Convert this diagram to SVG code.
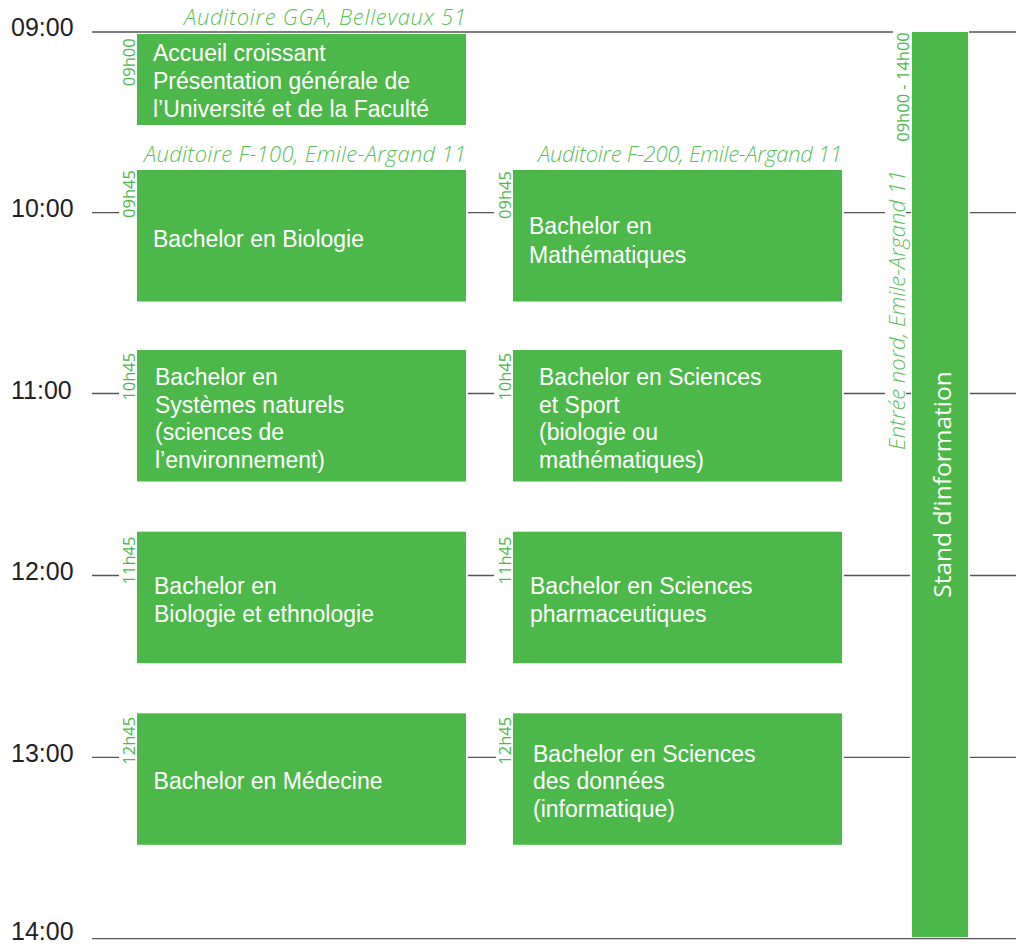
<svg xmlns="http://www.w3.org/2000/svg" width="1016" height="945" viewBox="0 0 1016 945">
<style>
.bg{fill:#ffffff}
.box{fill:#4db84a}
.grid{stroke:#555555;stroke-width:1.3;fill:none}
.hour{font-family:"Liberation Sans","Open Sans",sans-serif;font-size:25px;fill:#222222}
.t{font-family:"Liberation Sans","Open Sans",sans-serif;font-size:23px;fill:#ffffff}
.st{font-family:"Open Sans","Liberation Sans",sans-serif;font-size:24.5px;fill:#ffffff;text-anchor:middle}
.loc{font-family:"Open Sans","Liberation Sans",sans-serif;font-size:22px;font-style:italic;font-weight:300;fill:#5cbf58}
.sm{font-family:"Open Sans","Liberation Sans",sans-serif;font-size:16.5px;fill:#4db84a;text-anchor:middle}
</style>
<rect class="bg" x="0" y="0" width="1016" height="945"/>
<g id="hours">
<text class="hour" x="11" y="36">09:00</text>
<text class="hour" x="11" y="217">10:00</text>
<text class="hour" x="11" y="399">11:00</text>
<text class="hour" x="11" y="580">12:00</text>
<text class="hour" x="11" y="762">13:00</text>
<text class="hour" x="11" y="939.5">14:00</text>
</g>
<g id="connectors">
<path class="grid" d="M92 32H893M969 32H1016"/>
<path class="grid" d="M92 212.7H119M468 212.7H494M844 212.7H885M906 212.7H911M970 212.7H1016"/>
<path class="grid" d="M92 393.5H119M468 393.5H494M844 393.5H885M906 393.5H911M970 393.5H1016"/>
<path class="grid" d="M92 575.5H119M468 575.5H494M844 575.5H910M970 575.5H1016"/>
<path class="grid" d="M92 757.3H119M468 757.3H496M844 757.3H910M970 757.3H1016"/>
<path class="grid" d="M92 938.7H1016"/>
</g>
<g id="locations">
<text class="loc" x="466" y="25" text-anchor="end" textLength="282" lengthAdjust="spacing">Auditoire GGA, Bellevaux 51</text>
<text class="loc" x="466" y="162" text-anchor="end" textLength="322" lengthAdjust="spacing">Auditoire F-100, Emile-Argand 11</text>
<text class="loc" x="842" y="162" text-anchor="end" textLength="304" lengthAdjust="spacing">Auditoire F-200, Emile-Argand 11</text>
</g>
<g id="accueil">
<rect class="box" x="137" y="34" width="329" height="91"/>
<text class="sm" transform="translate(135 62.3) rotate(-90)">09h00</text>
<text class="t" x="153" y="61">Accueil croissant</text>
<text class="t" x="153" y="89">Présentation générale de</text>
<text class="t" x="153" y="117">l’Université et de la Faculté</text>
</g>
<g id="biologie">
<rect class="box" x="137" y="170" width="329" height="131.5"/>
<text class="sm" transform="translate(135 194) rotate(-90)">09h45</text>
<text class="t" x="153" y="247">Bachelor en Biologie</text>
</g>
<g id="mathematiques">
<rect class="box" x="513" y="170" width="329" height="131.5"/>
<text class="sm" transform="translate(511 195) rotate(-90)">09h45</text>
<text class="t" x="529" y="234">Bachelor en</text>
<text class="t" x="529" y="263">Mathématiques</text>
</g>
<g id="systemes">
<rect class="box" x="137" y="350" width="329" height="131.5"/>
<text class="sm" transform="translate(135 376.7) rotate(-90)">10h45</text>
<text class="t" x="155" y="385">Bachelor en</text>
<text class="t" x="155" y="413">Systèmes naturels</text>
<text class="t" x="155" y="440">(sciences de</text>
<text class="t" x="155" y="468">l’environnement)</text>
</g>
<g id="sport">
<rect class="box" x="513" y="350" width="329" height="131.5"/>
<text class="sm" transform="translate(511 376.7) rotate(-90)">10h45</text>
<text class="t" x="539" y="385">Bachelor en Sciences</text>
<text class="t" x="539" y="413">et Sport</text>
<text class="t" x="539" y="440">(biologie ou</text>
<text class="t" x="539" y="468">mathématiques)</text>
</g>
<g id="ethnologie">
<rect class="box" x="137" y="531.7" width="329" height="131.5"/>
<text class="sm" transform="translate(135 560.5) rotate(-90)">11h45</text>
<text class="t" x="154" y="594">Bachelor en</text>
<text class="t" x="154" y="622">Biologie et ethnologie</text>
</g>
<g id="pharma">
<rect class="box" x="513" y="531.7" width="329" height="131.5"/>
<text class="sm" transform="translate(511 560.5) rotate(-90)">11h45</text>
<text class="t" x="530" y="594">Bachelor en Sciences</text>
<text class="t" x="530" y="622">pharmaceutiques</text>
</g>
<g id="medecine">
<rect class="box" x="137" y="713.3" width="329" height="131.5"/>
<text class="sm" transform="translate(135 740.8) rotate(-90)">12h45</text>
<text class="t" x="153.6" y="789">Bachelor en Médecine</text>
</g>
<g id="donnees">
<rect class="box" x="513" y="713.3" width="329" height="131.5"/>
<text class="sm" transform="translate(511 740.8) rotate(-90)">12h45</text>
<text class="t" x="533" y="762">Bachelor en Sciences</text>
<text class="t" x="533" y="789">des données</text>
<text class="t" x="533" y="817">(informatique)</text>
</g>
<g id="stand">
<rect class="box" x="912" y="32" width="56" height="905"/>
<text class="sm" transform="translate(909 87) rotate(-90)">09h00 - 14h00</text>
<text class="loc" font-size="23.5" text-anchor="middle" transform="translate(905 310) rotate(-90)">Entrée nord, Emile-Argand 11</text>
<text class="st" transform="translate(950.5 484.5) rotate(-90)">Stand d’information</text>
</g>
</svg>
